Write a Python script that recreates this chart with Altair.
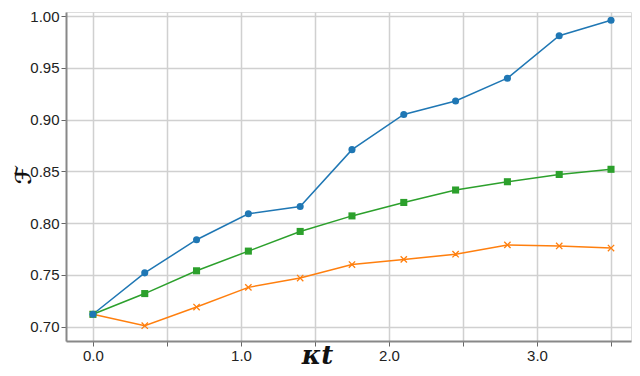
import altair as alt
import pandas as pd

kt = [0.0, 0.35, 0.70, 1.05, 1.40, 1.75, 2.10, 2.45, 2.80, 3.15, 3.50]
blue = [0.712, 0.752, 0.784, 0.809, 0.816, 0.871, 0.905, 0.918, 0.940, 0.981, 0.996]
green = [0.712, 0.732, 0.754, 0.773, 0.792, 0.807, 0.820, 0.832, 0.840, 0.847, 0.852]
orange = [0.712, 0.701, 0.719, 0.738, 0.747, 0.760, 0.765, 0.770, 0.779, 0.778, 0.776]

x_ticks = [0.0, 0.5, 1.0, 1.5, 2.0, 2.5, 3.0, 3.5]
y_ticks = [0.70, 0.75, 0.80, 0.85, 0.90, 0.95, 1.00]

rows = []
for name, vals in [("blue", blue), ("green", green), ("orange", orange)]:
    for k, v in zip(kt, vals):
        rows.append({"kt": k, "F": v, "series": name})
df = pd.DataFrame(rows)

xdom = [-0.182, 3.635]
ydom = [0.6862, 1.0039]

xenc = alt.X(
    "kt:Q",
    scale=alt.Scale(domain=xdom, nice=False, zero=False),
    axis=alt.Axis(
        values=x_ticks,
        labelExpr="datum.value % 1 == 0 ? format(datum.value, '.1f') : ''",
        title="κt",
        titleFont="DejaVu Serif",
        titleFontStyle="italic",
        titleFontWeight="bold",
        titleFontSize=26,
        titleColor="#111",
        titleX=251,
        titleY=27,
        titleAlign="center",
        titleBaseline="bottom",
        labelFont="Liberation Sans",
        labelFontSize=15,
        labelColor="#222",
        labelPadding=2,
        tickSize=5,
        tickColor="#666",
        domainColor="#888",
        domainWidth=2,
        gridColor="#d0d0d0",
        gridWidth=1.5,
    ),
)
yenc = alt.Y(
    "F:Q",
    scale=alt.Scale(domain=ydom, nice=False, zero=False),
    axis=alt.Axis(
        values=y_ticks,
        format=".2f",
        title="ℱ",
        titleFont="DejaVu Sans",
        titleFontWeight="bold",
        titleFontSize=22,
        titleColor="#111",
        titleX=-43,
        titleY=163,
        titleAngle=270,
        titleAlign="center",
        titleBaseline="middle",
        labelFont="Liberation Sans",
        labelFontSize=15,
        labelColor="#222",
        labelPadding=2,
        tickSize=5,
        tickColor="#666",
        domainColor="#888",
        domainWidth=2,
        gridColor="#d0d0d0",
        gridWidth=1.5,
    ),
)

colors = {"blue": "#1f77b4", "green": "#2ca02c", "orange": "#ff7f0e"}

def line_layer(name):
    return alt.Chart(df).transform_filter(alt.datum.series == name).mark_line(
        color=colors[name], strokeWidth=1.5
    ).encode(x=xenc, y=yenc)

pts_blue = alt.Chart(df).transform_filter(alt.datum.series == "blue").mark_point(
    shape="circle", filled=True, size=50, color=colors["blue"], opacity=1
).encode(x=xenc, y=yenc)
pts_green = alt.Chart(df).transform_filter(alt.datum.series == "green").mark_point(
    shape="square", filled=True, size=50, color=colors["green"], opacity=1
).encode(x=xenc, y=yenc)
pts_orange = alt.Chart(df).transform_filter(alt.datum.series == "orange").mark_point(
    shape="M-1,-1L1,1M-1,1L1,-1", filled=False, size=40, color=colors["orange"],
    strokeWidth=1.3, opacity=1
).encode(x=xenc, y=yenc)

chart = alt.layer(
    line_layer("orange"), line_layer("green"), line_layer("blue"),
    pts_orange, pts_green, pts_blue,
).properties(
    width=565,
    height=329,
    autosize=alt.AutoSizeParams(type="none"),
    padding={"left": 58, "top": 4, "right": 1, "bottom": 27},
).configure_view(
    stroke="#222", strokeWidth=1.5
).configure(background="white")

chart.save("out.html", embed_options={"renderer": "svg", "actions": False})
